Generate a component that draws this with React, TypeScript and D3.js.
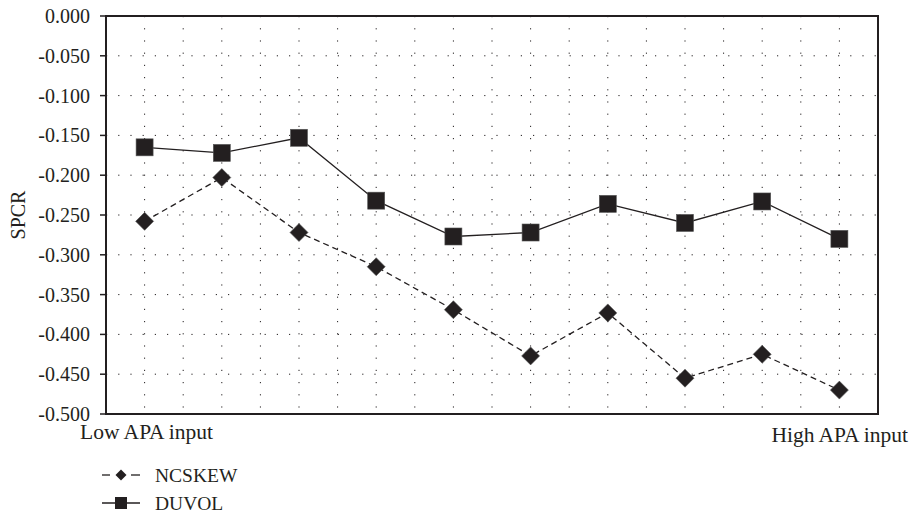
import React from "react";
import * as d3 from "d3";

const categories = ["1", "2", "3", "4", "5", "6", "7", "8", "9", "10"];
const ncskew = [-0.258, -0.203, -0.272, -0.315, -0.369, -0.427, -0.373, -0.455, -0.425, -0.470];
const duvol = [-0.165, -0.172, -0.153, -0.232, -0.277, -0.272, -0.236, -0.260, -0.233, -0.280];
const yTicks = [0, -0.05, -0.1, -0.15, -0.2, -0.25, -0.3, -0.35, -0.4, -0.45, -0.5];

const W = 911, H = 513;
const L = 106, R = 878, T = 16, B = 414;
const ink = "#231f20";
const font = "'Liberation Serif', 'Times New Roman', serif";

export default function App() {
  const x = d3.scaleBand<string>().domain(categories).range([L, R]);
  const y = d3.scaleLinear().domain([-0.5, 0]).range([B, T]);
  const cx = (c: string) => (x(c) as number) + x.bandwidth() / 2;
  const line = d3.line<number>().x((_, i) => cx(categories[i])).y((v) => y(v));
  const vGrid = d3.range(1, 20).map((i) => L + (i * (R - L)) / 20);
  const diamond = (px: number, py: number, r: number) =>
    `M${px},${py - r}L${px + r},${py}L${px},${py + r}L${px - r},${py}Z`;

  return (
    <svg width={W} height={H} style={{ position: "absolute", left: 0, top: 0, background: "#fff" }}>
      <rect width={W} height={H} fill="#fff" />
      {/* grid */}
      {vGrid.map((gx, i) => (
        <line key={"v" + i} x1={gx} x2={gx} y1={T} y2={B} stroke={ink} strokeWidth={1} strokeDasharray="1.2 11" />
      ))}
      {yTicks.slice(1, -1).map((t, i) => (
        <line key={"h" + i} x1={L} x2={R} y1={y(t)} y2={y(t)} stroke={ink} strokeWidth={1} strokeDasharray="1.2 11" />
      ))}
      {/* frame */}
      <rect x={L} y={T} width={R - L} height={B - T} fill="none" stroke={ink} strokeWidth={2} />
      {yTicks.map((t, i) => (
        <g key={"t" + i}>
          <line x1={L - 6} x2={L} y1={y(t)} y2={y(t)} stroke={ink} strokeWidth={1.5} />
          <text x={90} y={y(t)} dy="0.35em" textAnchor="end" fontFamily={font} fontSize={20} fill={ink}>
            {d3.format(".3f")(t).replace("−", "-")}
          </text>
        </g>
      ))}
      <text transform={`translate(24.5,215) rotate(-90)`} textAnchor="middle" fontFamily={font} fontSize={20} fill={ink}>
        SPCR
      </text>
      <text x={80} y={439} fontFamily={font} fontSize={21.5} fill={ink}>Low APA input</text>
      <text x={908} y={442} textAnchor="end" fontFamily={font} fontSize={21.5} fill={ink}>High APA input</text>
      {/* series */}
      <path d={line(ncskew) || ""} fill="none" stroke={ink} strokeWidth={1.3} strokeDasharray="6 4" />
      <path d={line(duvol) || ""} fill="none" stroke={ink} strokeWidth={1.3} />
      {ncskew.map((v, i) => (
        <path key={"n" + i} d={diamond(cx(categories[i]), y(v), 9)} fill={ink} stroke="#555" strokeWidth={0.6} />
      ))}
      {duvol.map((v, i) => (
        <rect key={"d" + i} x={cx(categories[i]) - 8.5} y={y(v) - 8.5} width={17} height={17} fill={ink} stroke="#555" strokeWidth={0.6} />
      ))}
      {/* legend */}
      <line x1={102} x2={110} y1={475} y2={475} stroke={ink} strokeWidth={1.3} />
      <line x1={131} x2={140} y1={475} y2={475} stroke={ink} strokeWidth={1.3} />
      <path d={diamond(121, 475, 5.5)} fill={ink} />
      <text x={155} y={475} dy="0.35em" fontFamily={font} fontSize={19.5} fill={ink}>NCSKEW</text>
      <line x1={102} x2={140} y1={503} y2={503} stroke={ink} strokeWidth={1.3} />
      <rect x={115} y={497} width={12} height={12} fill={ink} />
      <text x={155} y={503} dy="0.35em" fontFamily={font} fontSize={19.5} fill={ink}>DUVOL</text>
    </svg>
  );
}
